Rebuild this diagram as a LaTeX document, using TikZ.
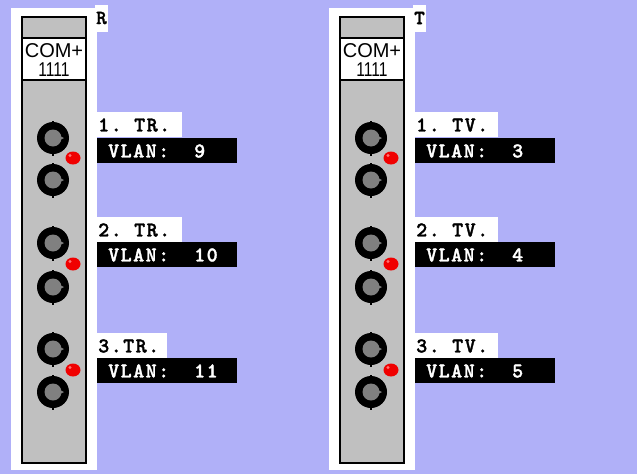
\documentclass[tikz,border=0pt]{standalone}
\usepackage{fontspec}
\newfontfamily\labfont{lmmonolt10-bold.otf}[LetterSpace=7,FakeBold=1.5]
\newfontfamily\comfont{Liberation Sans}
\definecolor{bgc}{RGB}{176,176,248}
\definecolor{modgray}{RGB}{192,192,192}
\definecolor{jackgray}{RGB}{128,128,128}
\definecolor{ledred}{RGB}{240,0,0}
\tikzset{
  panel/.style={fill=white},
  modbody/.style={draw=black, line width=2pt, fill=modgray},
  modhead/.style={draw=black, line width=2pt, fill=white},
  comtext/.style={font=\comfont\fontsize{20}{20}\selectfont, inner sep=0pt},
  lettertext/.style={font=\labfont\fontsize{20}{20}\selectfont, inner sep=0pt, anchor=center},
  labbox/.style={fill=white},
  vlanbox/.style={fill=black},
  labtext/.style={font=\labfont\fontsize{21}{21}\selectfont, inner sep=0pt, anchor=west, text=black},
  vlantext/.style={font=\labfont\fontsize{21}{21}\selectfont, inner sep=0pt, anchor=west, text=white}
}
\newcommand{\jackat}[2]{%
  \fill[black] (#1,#2) circle (16);
  \fill[black] (#1-1,#2-17.5) rectangle (#1+1,#2+17.5);
  \fill[jackgray] (#1,#2) circle (8.5);
  \fill[jackgray] (#1+5,#2-3) -- (#1+11,#2) -- (#1+5,#2+3) -- cycle;
}
\newcommand{\ledat}[2]{%
  \fill[ledred] (#1,#2) ellipse (7.5 and 6.5);
  \fill[red!55!white] (#1-3,#2-2.5) circle (1.6);
}
\newcommand{\modulebody}[2]{%
  \begin{scope}[xshift=#1]
    \fill[panel] (11,8) rectangle (97,470);
    \draw[modbody] (22,17) rectangle (86,463);
    \draw[modhead] (22,38) rectangle (86,80);
    \node[comtext] at (54,51) {COM+};
    \node[comtext, xscale=0.78] at (54,70) {1111};
    \fill[white] (95,5) rectangle (108,32);
    \node[lettertext] at (101.5,18) {#2};
    \jackat{53}{138}\jackat{53}{180}
    \jackat{53}{243}\jackat{53}{287}
    \jackat{53}{349}\jackat{53}{392}
    \ledat{73}{158}
    \ledat{73}{264}
    \ledat{73}{370}
  \end{scope}
}
\begin{document}
\begin{tikzpicture}[x=1pt,y=-1pt]
\fill[bgc] (0,0) rectangle (637,474);
\useasboundingbox (0,0) rectangle (637,474);
\modulebody{0pt}{R}
\modulebody{318pt}{T}
% left labels
\fill[labbox] (97,112) rectangle (182,137);
\node[labtext] (lt1) at (98,125) {1.~TR.};
\fill[vlanbox] (97,138) rectangle (237,163);
\node[vlantext] (lv1) at (108,151) {VLAN:~~9};
\fill[labbox] (97,217) rectangle (182,242);
\node[labtext] (lt2) at (98,230) {2.~TR.};
\fill[vlanbox] (97,242) rectangle (237,267);
\node[vlantext] (lv2) at (108,255) {VLAN:~~10};
\fill[labbox] (97,333) rectangle (167,358);
\node[labtext] (lt3) at (98,346) {3.TR.};
\fill[vlanbox] (97,358) rectangle (237,383);
\node[vlantext] (lv3) at (108,371) {VLAN:~~11};
% right labels
\fill[labbox] (415,112) rectangle (498,137);
\node[labtext] (rt1) at (416,125) {1.~TV.};
\fill[vlanbox] (415,138) rectangle (555,163);
\node[vlantext] (rv1) at (426,151) {VLAN:~~3};
\fill[labbox] (415,217) rectangle (498,242);
\node[labtext] (rt2) at (416,230) {2.~TV.};
\fill[vlanbox] (415,242) rectangle (555,267);
\node[vlantext] (rv2) at (426,255) {VLAN:~~4};
\fill[labbox] (415,333) rectangle (498,358);
\node[labtext] (rt3) at (416,346) {3.~TV.};
\fill[vlanbox] (415,358) rectangle (555,383);
\node[vlantext] (rv3) at (426,371) {VLAN:~~5};
\end{tikzpicture}
\end{document}
